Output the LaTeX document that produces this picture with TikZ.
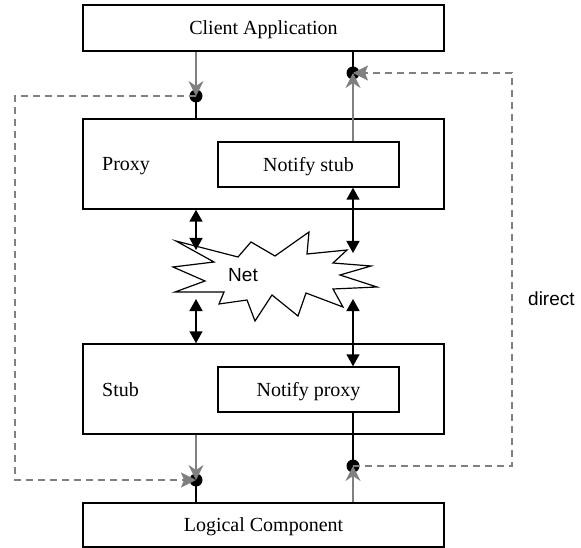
\documentclass[tikz,border=0pt]{standalone}
\usepackage{fontspec}
\setmainfont{Liberation Serif}
\newfontfamily\sansfont{Liberation Sans}
\usetikzlibrary{arrows.meta}
\definecolor{linegrey}{RGB}{128,128,128}
\begin{document}
\begin{tikzpicture}[x=1pt,y=-1pt,
  box/.style={draw, line width=1.5pt, inner sep=0pt,
    font=\fontsize{20}{24}\selectfont, text height=13.2pt, text depth=0pt},
  wide/.style={box, minimum width=361pt},
  inner/.style={box, minimum width=181pt, minimum height=45pt},
  label/.style={anchor=west, inner sep=0pt,
    font=\fontsize{20}{24}\selectfont, text height=13.2pt, text depth=0pt},
  dot/.style={circle, fill=black, minimum size=13pt, inner sep=0pt},
  solid link/.style={line width=1.5pt},
  grey link/.style={draw=linegrey, line width=1.3pt,
    -{Stealth[length=15pt,width=15pt,inset=5pt,fill=linegrey]}},
  grey dash/.style={draw=linegrey, line width=1.3pt, dash pattern=on 7pt off 5pt},
  grey dash arrow/.style={grey dash,
    -{Stealth[length=15pt,width=15pt,inset=3pt,fill=linegrey]}},
  both ways/.style={line width=1.5pt,
    {Triangle[length=12pt,width=13pt]}-{Triangle[length=12pt,width=13pt]}},
  sanslabel/.style={inner sep=0pt, font=\sansfont\fontsize{19}{22}\selectfont}
]
\useasboundingbox (0,0) rectangle (581,548);

% boxes
\node[wide, minimum height=46pt] (client) at (263.5,28) {Client Application};
\node[wide, minimum height=90pt] (proxy) at (263.5,164) {};
\node[inner] (nstub) at (308.5,164.5) {Notify stub};
\node[label] (proxylbl) at (102,164) {Proxy};
\node[wide, minimum height=90pt] (stub) at (263.5,389) {};
\node[inner] (nproxy) at (308.5,389.5) {Notify proxy};
\node[label] (stublbl) at (102,389.5) {Stub};
\node[wide, minimum height=44pt] (logic) at (263.5,525) {Logical Component};

% junction dots
\node[dot] (d1) at (196,96) {};
\node[dot] (d2) at (353,73) {};
\node[dot] (d3) at (196,480) {};
\node[dot] (d4) at (353,466) {};

% black links between dots and boxes
\draw[solid link] (d1.center) -- (proxy.north -| d1);
\draw[solid link] (client.south -| d2) -- (d2.center);
\draw[solid link] (nproxy.south -| d4) -- (d4.center);
\draw[solid link] (d3.center) -- (logic.north -| d3);

% the direct path (dashed)
\coordinate (west) at (15,0);
\coordinate (east) at (512,0);
\draw[grey dash arrow] (d1.center) -- (d1 -| west) -- (d3 -| west) -- (d3.center);
\draw[grey dash arrow] (d4.center) -- (d4 -| east) -- (d2 -| east) -- (d2.center);

% grey arrows into the dots
\draw[grey link] (client.south -| d1) -- (d1.center);
\draw[grey link] (nstub.north -| d2) -- (d2.center);
\draw[grey link] (stub.south -| d3) -- (d3.center);
\draw[grey link] (logic.north -| d4) -- (d4.center);

% the net
\draw[line width=1.2pt, fill=white, line join=miter]
  (176,241) -- (238,257) -- (251,242) -- (275,256) -- (309,232) -- (307,254)
  -- (347,250) -- (333,263) -- (371,266) -- (340,275) -- (377,287) -- (333,289)
  -- (343,307) -- (306,293) -- (298,316) -- (272,295) -- (255,321) -- (247,300)
  -- (219,304) -- (224,292) -- (175,292) -- (205,281) -- (173,267) -- (214,262)
  -- cycle;
\node[sanslabel] (net) at (243,275) {Net};

% links through the net
\coordinate (n1) at (196,250);
\coordinate (n2) at (353,253);
\coordinate (n3) at (196,299);
\coordinate (n4) at (353,299);
\draw[both ways] (proxy.south -| n1) -- (n1);
\draw[both ways] (nstub.south -| n2) -- (n2);
\draw[both ways] (n3) -- (stub.north -| n3);
\draw[both ways] (n4) -- (nproxy.north -| n4);

\node[sanslabel, anchor=base west] (direct) at (528,305) {direct};
\end{tikzpicture}
\end{document}
